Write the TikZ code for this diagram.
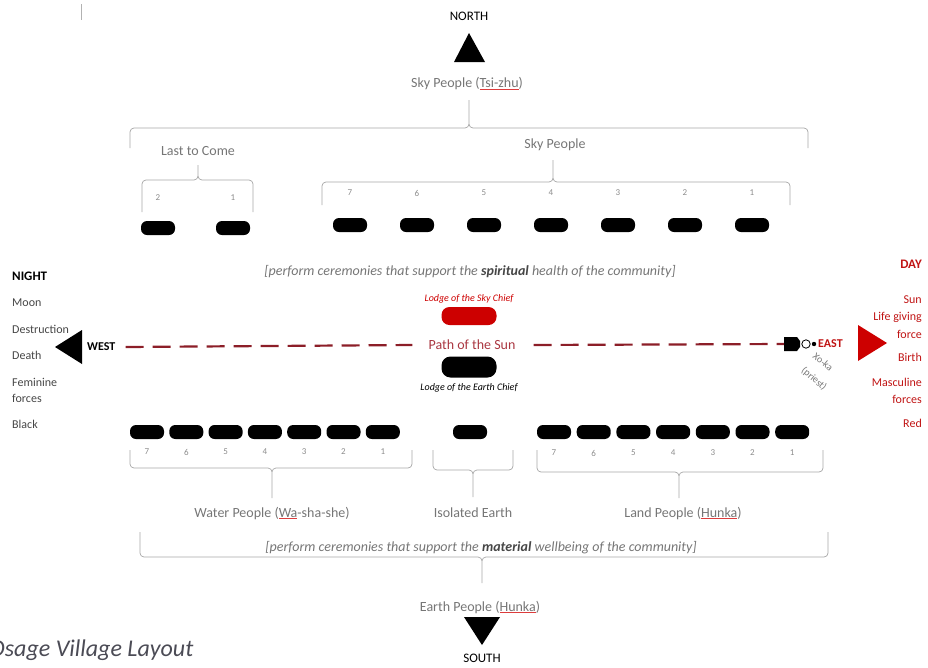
\documentclass[tikz,border=0pt]{standalone}
\usepackage{fontspec}
\setmainfont{Carlito}
\usetikzlibrary{positioning}
\definecolor{lblgray}{RGB}{118,118,118}
\definecolor{numgray}{RGB}{140,140,140}
\definecolor{leftgray}{RGB}{70,70,70}
\definecolor{dayred}{RGB}{192,20,20}
\definecolor{chiefred}{RGB}{205,0,0}
\definecolor{sunred}{RGB}{170,55,65}
\definecolor{dashred}{RGB}{140,30,40}
\definecolor{spellred}{RGB}{220,60,60}
\definecolor{titlegray}{RGB}{75,75,85}
\tikzset{
  lodge/.style={fill=black, rounded corners=6pt, minimum width=34pt, minimum height=14pt, inner sep=0pt},
  bracket/.style={draw=gray!70, line width=0.7pt, rounded corners=4pt},
  lbl/.style={text=lblgray, font=\fontsize{14}{16}\selectfont, inner sep=1pt},
  num/.style={text=numgray, font=\fontsize{9}{10}\selectfont, inner sep=0pt},
  side/.style={font=\fontsize{12}{14}\selectfont, inner sep=0pt},
  sunline/.style={draw=dashred, line width=2.2pt, dash pattern=on 18pt off 9pt},
}
\newcommand{\spell}[1]{{\color{spellred}\underline{\color{lblgray}#1}}}

\begin{document}
\begin{tikzpicture}[x=1pt, y=-1pt]
\useasboundingbox (0,0) rectangle (928,667);
\draw[gray!60, line width=0.6pt] (81,4) -- (81,20);

% north
\node[font=\fontsize{13}{15}\selectfont] (north) at (469,16) {NORTH};
\fill (454,62) -- (469,33) -- (485,62) -- cycle;
\node[lbl] (tsizhu) at (467,84) {Sky People (\spell{Tsi-zhu})};
\draw[bracket] (130,148) |- (469,128) -- (469,100) (808,148) |- (469,128) -- (469,100);

% last to come
\node[lbl] (lastcome) at (198,151) {Last to Come};
\draw[bracket] (142,212) |- (198,180) -- (198,165) (253,212) |- (198,180) -- (198,165);
\foreach \n/\x in {2/158,1/233} {
  \node[num] at (\x,198) {\n};
  \node[lodge] (last\n) at (\x,228) {};
}

% sky people
\node[lbl] (skyppl) at (555,145) {Sky People};
\draw[bracket] (322,205) |- (553,182) -- (553,160) (790,205) |- (553,182) -- (553,160);
\foreach \n [count=\i from 0] in {7,6,5,4,3,2,1} {
  \node[num] at ({350+67*\i},193) {\n};
  \node[lodge] (sky\n) at ({350+67*\i},225) {};
}

\node[lbl, font=\itshape\fontsize{14}{16}\selectfont] (spirit) at (470,272)
  {[perform ceremonies that support the {\color{leftgray}\textbf{spiritual}} health of the community]};

% night side
\node[side, anchor=west, font=\bfseries\fontsize{13}{15}\selectfont] (night) at (12,276) {NIGHT};
\foreach \t/\y in {Moon/303, Destruction/329, Death/355, Feminine/382, forces/398, Black/424}
  \node[side, anchor=west, text=leftgray] at (12,\y) {\t};

% day side
\node[side, anchor=east, text=dayred, font=\bfseries\fontsize{13}{15}\selectfont] (day) at (922,264) {DAY};
\foreach \t/\y in {Sun/300, Life giving/317, force/334, Birth/357, Masculine/382, forces/399, Red/423}
  \node[side, anchor=east, text=dayred] at (922,\y) {\t};

% chiefs and path of the sun
\node[lodge, fill=chiefred, minimum width=55pt, minimum height=18pt, rounded corners=8pt] (skychief) at (469,316) {};
\node[above=3pt of skychief, inner sep=0pt, text=chiefred, font=\itshape\fontsize{10}{12}\selectfont] (skylbl) {Lodge of the Sky Chief};
\node[lodge, minimum width=55pt, minimum height=21pt, rounded corners=9pt] (earthchief) at (469,367) {};
\node[below=6pt of earthchief, inner sep=0pt, font=\itshape\fontsize{10}{12}\selectfont] (earthlbl) {Lodge of the Earth Chief};

\fill (55,347) -- (82,330) -- (82,364) -- cycle;
\node[anchor=west, inner sep=0pt, font=\bfseries\fontsize{12}{14}\selectfont] (west) at (87,347) {WEST};
\node[text=sunred, font=\fontsize{14}{16}\selectfont, inner sep=0pt] (sunpath) at (472,345) {Path of the Sun};
\coordinate (ehut) at (785,344);
\draw[sunline] (west.east) ++(10,0) -- ([xshift=-16pt]sunpath.west);
\draw[sunline] ([xshift=18pt]sunpath.east) -- (ehut);

% priest at the east
\fill (784,337) -- (797,337) -- (800,341) -- (800,347) -- (797,351) -- (784,351) -- cycle;
\draw[fill=white, line width=0.8pt] (806,344) circle (4.2pt);
\fill (814,344) circle (2.2pt);
\node[anchor=west, inner sep=0pt, text=dayred, font=\bfseries\fontsize{12}{14}\selectfont] (east) at (818,344) {EAST};
\node[rotate=-40, text=lblgray, font=\fontsize{10}{12}\selectfont] (xoka) at (823,362) {Xo-ka};
\node[rotate=-40, text=lblgray, font=\fontsize{10}{12}\selectfont] (priest) at (814,379) {(priest)};
\fill[chiefred] (858,325) -- (887,343) -- (858,361) -- cycle;

% earth side lodges
\foreach \n [count=\i from 0] in {7,6,5,4,3,2,1} {
  \node[lodge] (water\n) at ({147+39.3*\i},432) {};
  \node[num] at ({147+39.3*\i},452) {\n};
  \node[lodge] (land\n) at ({554+39.7*\i},432) {};
  \node[num] at ({554+39.7*\i},453) {\n};
}
\node[lodge] (isoearth) at (470,432) {};

\draw[bracket] (130,450) |- (272,468) -- (272,498) (412,450) |- (272,468) -- (272,498);
\node[lbl] (washashe) at (272,513) {Water People (\spell{Wa}-sha-she)};
\draw[bracket] (433,450) |- (473,470) -- (473,497) (513,450) |- (473,470) -- (473,497);
\node[lbl] (isolated) at (473,513) {Isolated Earth};
\draw[bracket] (537,450) |- (679,472) -- (679,498) (823,450) |- (679,472) -- (679,498);
\node[lbl] (landppl) at (683,513) {Land People (\spell{Hunka})};

\node[lbl, font=\itshape\fontsize{14}{16}\selectfont] (material) at (481,548)
  {[perform ceremonies that support the {\color{leftgray}\textbf{material}} wellbeing of the community]};
\draw[bracket] (140,532) |- (482,557) -- (482,583) (828,532) |- (482,557) -- (482,583);

% south
\node[lbl] (earthppl) at (480,607) {Earth People (\spell{Hunka})};
\fill (464,617) -- (500,617) -- (482,645) -- cycle;
\node[font=\fontsize{13}{15}\selectfont] (south) at (482,658) {SOUTH};

\node[anchor=west, inner sep=0pt, text=titlegray, font=\itshape\fontsize{24}{28}\selectfont] (title) at (-11,650) {Osage Village Layout};
\end{tikzpicture}
\end{document}
